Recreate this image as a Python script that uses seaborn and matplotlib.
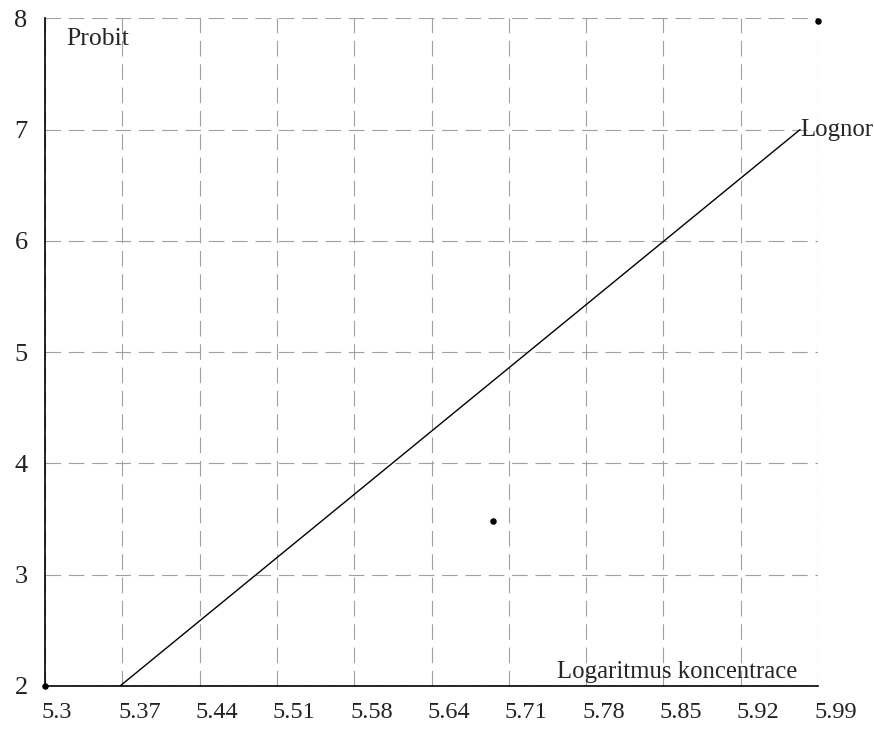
import numpy as np
import matplotlib
matplotlib.use("Agg")
import matplotlib.pyplot as plt
import matplotlib.transforms as mtransforms
import seaborn as sns

# measured points (log concentration, probit)
log_conc = [5.30, 5.70, 5.99]
probit = [2.0, 3.48, 7.98]

# fitted lognormal line, end points
line_x = [5.367, 5.974]
line_y = [2.0, 7.0]

x_labels = ['5.3', '5.37', '5.44', '5.51', '5.58', '5.64', '5.71', '5.78', '5.85', '5.92', '5.99']
y_labels = ['2', '3', '4', '5', '6', '7', '8']

sns.set_style("white")
plt.rcParams['font.family'] = ['Liberation Serif', 'DejaVu Serif']
plt.rcParams['font.size'] = 17

fig = plt.figure(figsize=(8.74, 7.31), dpi=100)
ax = fig.add_axes([0.0515, 0.0616, 0.8845, 0.9134])

sns.lineplot(x=line_x, y=line_y, ax=ax, color='black', linewidth=1.0)
sns.scatterplot(x=log_conc, y=probit, ax=ax, color='black', s=22,
                edgecolor='black', linewidth=0, clip_on=False, zorder=5)

ax.set_xlim(5.3, 5.99)
ax.set_ylim(2, 8)
ax.set_xticks(np.linspace(5.3, 5.99, len(x_labels)))
ax.set_xticklabels(x_labels, fontsize=17.5)
ax.set_yticks([float(v) for v in y_labels])
ax.set_yticklabels(y_labels, fontsize=19)

ax.grid(True, color='#a0a0a0', linestyle=(0, (14, 7)), linewidth=0.8)
for side in ['top', 'right']:
    ax.spines[side].set_visible(False)
for side in ['left', 'bottom']:
    ax.spines[side].set_color('black')
    ax.spines[side].set_linewidth(1.2)

ax.tick_params(axis='x', direction='inout', length=9, width=1, pad=7, colors='black')
ax.tick_params(axis='y', direction='inout', length=9, width=1, pad=8, colors='black')

# x labels sit just right of their ticks, as in the scan
shift = mtransforms.ScaledTranslation(-4 / 100, 0, fig.dpi_scale_trans)
for t in ax.get_xticklabels():
    t.set_horizontalalignment('left')
    t.set_transform(t.get_transform() + shift)
for t in ax.get_xticklabels() + ax.get_yticklabels():
    t.set_color('#222222')

ax.text(0.028, 0.985, 'Probit', transform=ax.transAxes, ha='left', va='top', fontsize=18.5)
ax.text(0.973, 0.004, 'Logaritmus koncentrace', transform=ax.transAxes,
        ha='right', va='bottom', fontsize=17.8)
ax.text(line_x[1], line_y[1], 'Lognor', ha='left', va='center', fontsize=17.8, clip_on=False)

fig.savefig('out.png', dpi=100)
